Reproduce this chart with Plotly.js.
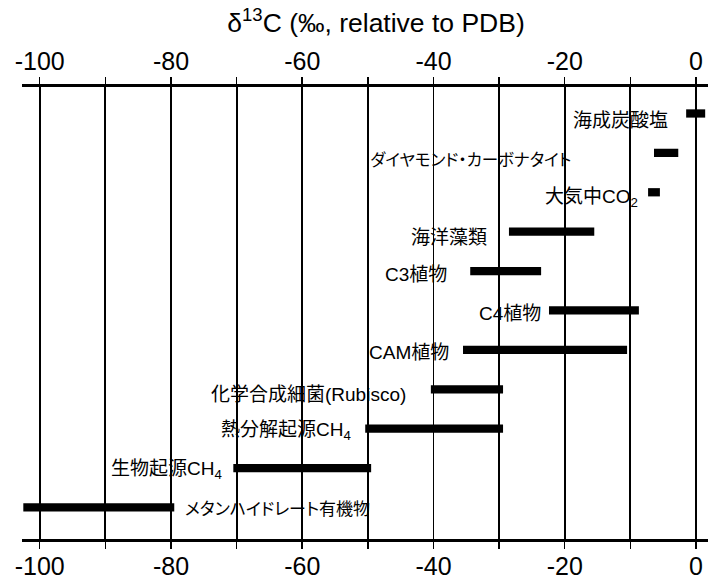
<!DOCTYPE html>
<html>
<head>
<meta charset="utf-8">
<script src="https://cdn.plot.ly/plotly-3.0.1.min.js"></script>
<style>
html,body{margin:0;padding:0;background:#fff;}
#chart{width:708px;height:579px;}
text.annotation-text{font-feature-settings:"palt" 1;}
</style>
</head>
<body>
<div id="chart"></div>
<script>
// ---- data ----
const categories = [
  "海成炭酸塩",
  "ダイヤモンド・カーボナタイト",
  "大気中CO<sub>2</sub>",
  "海洋藻類",
  "C3植物",
  "C4植物",
  "CAM植物",
  "化学合成細菌(Rubisco)",
  "熱分解起源CH<sub>4</sub>",
  "生物起源CH<sub>4</sub>",
  "メタンハイドレート有機物"
];
const lowValues  = [-1.5, -6.4, -7.3, -28.5, -34.4, -22.4, -35.5, -40.4, -50.4, -70.5, -102.5];
const highValues = [ 1.4, -2.7, -5.5, -15.5, -23.6,  -8.7, -10.5, -29.4, -29.4, -49.5,  -79.5];
const tickValues = [-100, -90, -80, -70, -60, -50, -40, -30, -20, -10, 0];
const tickLabels = ["-100", " ", "-80", " ", "-60", " ", "-40", " ", "-20", " ", "0"];

// ---- label styling (positions relative to bars, in pixels) ----
const labelGap   = [16, 81, 8, 20, 21, 6, 12, 23, 12, 9, 9];
const labelDrop  = [7, 7, 6, 6, 3, 3.5, 3, 5, 2, 2, 2];
const labelSize  = [19, 16.5, 19, 19, 19, 19, 19, 19, 19, 19, 17];
const labelRight = [false, false, false, false, false, false, false, false, false, false, true];

const yIdx = categories.map((_, i) => i);
const FONT = "Liberation Sans, Arial, Noto Sans CJK JP, sans-serif";
const JFONT = "Liberation Sans, Arial, Noto Sans CJK JP, sans-serif";

const bars = {
  type: "bar",
  orientation: "h",
  y: yIdx,
  base: lowValues,
  x: highValues.map((h, i) => h - lowValues[i]),
  width: 0.21,
  marker: {color: "#000", line: {width: 0}},
  hoverinfo: "skip",
  showlegend: false,
  xaxis: "x",
  yaxis: "y",
  cliponaxis: true
};
const dummy = {
  type: "scatter", mode: "markers",
  x: [tickValues[0], tickValues[tickValues.length - 1]], y: [null, null],
  xaxis: "x2", yaxis: "y", showlegend: false, hoverinfo: "skip"
};

const annotations = categories.map((c, i) => ({
  text: c,
  x: labelRight[i] ? highValues[i] : lowValues[i],
  y: yIdx[i],
  xref: "x", yref: "y",
  xanchor: labelRight[i] ? "left" : "right",
  yanchor: "middle",
  xshift: labelRight[i] ? labelGap[i] : -labelGap[i],
  yshift: -labelDrop[i],
  showarrow: false,
  font: {family: JFONT, size: labelSize[i], color: "#000"}
}));

const xRange = [-102.7, 1.83];
const commonAxis = {
  range: xRange,
  tickmode: "array",
  tickvals: tickValues,
  ticktext: tickLabels,
  ticks: "outside",
  ticklen: 7,
  tickwidth: 1.5,
  tickcolor: "#000",
  showline: true,
  linewidth: 3,
  linecolor: "#000",
  tickfont: {family: FONT, size: 25, color: "#000"},
  zeroline: false,
  fixedrange: true
};

const layout = {
  width: 708, height: 579,
  margin: {l: 21.7, r: 0, t: 87, b: 39.5},
  paper_bgcolor: "#fff", plot_bgcolor: "#fff",
  title: {
    text: "δ<sup>13</sup>C (‰, relative to PDB)",
    font: {family: FONT, size: 26.5, color: "#000"},
    x: 376 / 708, xanchor: "center", xref: "container",
    y: 1 - 23 / 579, yanchor: "middle", yref: "container"
  },
  xaxis: Object.assign({}, commonAxis, {
    side: "top",
    ticklabelstandoff: -3,
    showgrid: true, gridcolor: "#000", gridwidth: 1.8
  }),
  xaxis2: Object.assign({}, commonAxis, {
    side: "bottom", overlaying: "x", showgrid: false,
    ticklabelstandoff: -4
  }),
  yaxis: {
    range: [10.80, -0.672],
    visible: false, showgrid: false, zeroline: false, fixedrange: true
  },
  annotations: annotations,
  showlegend: false
};

Plotly.newPlot("chart", [bars, dummy], layout, {displayModeBar: false, staticPlot: true});
</script>
</body>
</html>
